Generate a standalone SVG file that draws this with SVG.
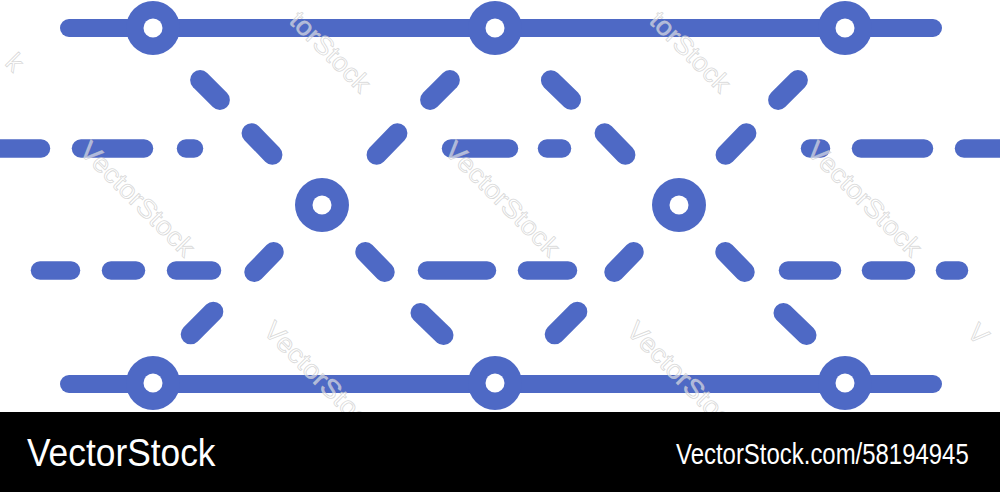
<svg xmlns="http://www.w3.org/2000/svg" width="1000" height="492" viewBox="0 0 1000 492">
  <style>
    .ln { stroke: #4e69c5; stroke-width: 18; stroke-linecap: round; fill: none; }
    .dash { stroke: #4e69c5; stroke-width: 18.5; stroke-linecap: round; fill: none; }
    .dg { stroke: #4e69c5; stroke-width: 20; stroke-linecap: round; fill: none; }
    .outer { fill: #4e69c5; }
    .hole { fill: #ffffff; }
    .wm { font-family: "Liberation Sans", Arial, sans-serif; font-size: 26px; fill: #ffffff; fill-opacity: 0.55; stroke: #c8c8c8; stroke-opacity: 0.7; stroke-width: 0.8; }
    .band { font-family: "Liberation Sans", Arial, sans-serif; fill: #ffffff; }
  </style>
  <rect x="0" y="0" width="1000" height="492" fill="#ffffff"/>

  <g id="connectors">
    <!-- solid rails -->
    <line class="ln" x1="69" y1="28" x2="933" y2="28"/>
    <line class="ln" x1="69" y1="384" x2="933" y2="384"/>
    <!-- upper dashed row -->
    <g>
      <line class="dash" x1="-5" y1="148.5" x2="41" y2="148.5"/>
      <line class="dash" x1="81" y1="148.5" x2="144" y2="148.5"/>
      <line class="dash" x1="186" y1="148.5" x2="194" y2="148.5"/>
      <line class="dash" x1="451" y1="148.5" x2="509" y2="148.5"/>
      <line class="dash" x1="547" y1="148.5" x2="562" y2="148.5"/>
      <line class="dash" x1="810" y1="148.5" x2="821" y2="148.5"/>
      <line class="dash" x1="861" y1="148.5" x2="924" y2="148.5"/>
      <line class="dash" x1="964" y1="148.5" x2="1005" y2="148.5"/>
    </g>
    <!-- lower dashed row -->
    <g>
      <line class="dash" x1="40" y1="270.5" x2="71" y2="270.5"/>
      <line class="dash" x1="111" y1="270.5" x2="136" y2="270.5"/>
      <line class="dash" x1="176" y1="270.5" x2="212" y2="270.5"/>
      <line class="dash" x1="427" y1="270.5" x2="487" y2="270.5"/>
      <line class="dash" x1="527" y1="270.5" x2="568" y2="270.5"/>
      <line class="dash" x1="788" y1="270.5" x2="832" y2="270.5"/>
      <line class="dash" x1="871" y1="270.5" x2="906" y2="270.5"/>
      <line class="dash" x1="945" y1="270.5" x2="959" y2="270.5"/>
    </g>
    <!-- diagonal dashes, upper half -->
    <g>
      <line class="dg" x1="-14" y1="0" x2="14" y2="0" transform="translate(210 90) rotate(45)"/>
      <line class="dg" x1="-15" y1="0" x2="15" y2="0" transform="translate(262 144) rotate(46)"/>
      <line class="dg" x1="-14" y1="0" x2="14" y2="0" transform="translate(440 90) rotate(-45)"/>
      <line class="dg" x1="-15" y1="0" x2="15" y2="0" transform="translate(387 144) rotate(-46)"/>
      <line class="dg" x1="-14" y1="0" x2="14" y2="0" transform="translate(561 90) rotate(44)"/>
      <line class="dg" x1="-15" y1="0" x2="15" y2="0" transform="translate(615 144) rotate(46)"/>
      <line class="dg" x1="-14" y1="0" x2="14" y2="0" transform="translate(788 90) rotate(-45)"/>
      <line class="dg" x1="-15" y1="0" x2="15" y2="0" transform="translate(736 144) rotate(-46)"/>
    </g>
    <!-- diagonal dashes, lower half -->
    <g>
      <line class="dg" x1="-14" y1="0" x2="14" y2="0" transform="translate(264 262) rotate(-46)"/>
      <line class="dg" x1="-16" y1="0" x2="16" y2="0" transform="translate(202 323) rotate(-45)"/>
      <line class="dg" x1="-14" y1="0" x2="14" y2="0" transform="translate(375 262) rotate(46)"/>
      <line class="dg" x1="-16" y1="0" x2="16" y2="0" transform="translate(432 324) rotate(44)"/>
      <line class="dg" x1="-14" y1="0" x2="14" y2="0" transform="translate(624 262) rotate(-46)"/>
      <line class="dg" x1="-16" y1="0" x2="16" y2="0" transform="translate(566 323) rotate(-45)"/>
      <line class="dg" x1="-14" y1="0" x2="14" y2="0" transform="translate(735 262) rotate(46)"/>
      <line class="dg" x1="-16" y1="0" x2="16" y2="0" transform="translate(795 324) rotate(44)"/>
    </g>
  </g>

  <g id="node-top-left"><circle class="outer" cx="153" cy="28" r="27"/><circle class="hole" cx="153" cy="28" r="9.5"/></g>
  <g id="node-top-mid"><circle class="outer" cx="495" cy="28" r="27"/><circle class="hole" cx="495" cy="28" r="9.5"/></g>
  <g id="node-top-right"><circle class="outer" cx="845" cy="28" r="27"/><circle class="hole" cx="845" cy="28" r="9.5"/></g>
  <g id="node-mid-left"><circle class="outer" cx="322" cy="205" r="27"/><circle class="hole" cx="322" cy="205" r="9.5"/></g>
  <g id="node-mid-right"><circle class="outer" cx="679" cy="205" r="27"/><circle class="hole" cx="679" cy="205" r="9.5"/></g>
  <g id="node-bottom-left"><circle class="outer" cx="153" cy="383" r="27"/><circle class="hole" cx="153" cy="383" r="9.5"/></g>
  <g id="node-bottom-mid"><circle class="outer" cx="495" cy="383" r="27"/><circle class="hole" cx="495" cy="383" r="9.5"/></g>
  <g id="node-bottom-right"><circle class="outer" cx="845" cy="383" r="27"/><circle class="hole" cx="845" cy="383" r="9.5"/></g>

  <g id="watermarks">
    <text class="wm" transform="translate(4 64) rotate(45)">k</text>
    <text class="wm" transform="translate(288 22) rotate(45)" textLength="102" lengthAdjust="spacingAndGlyphs">torStock</text>
    <text class="wm" transform="translate(648 22) rotate(45)" textLength="102" lengthAdjust="spacingAndGlyphs">torStock</text>
    <text class="wm" transform="translate(78 152) rotate(45)" textLength="150" lengthAdjust="spacingAndGlyphs">VectorStock</text>
    <text class="wm" transform="translate(443 152) rotate(45)" textLength="150" lengthAdjust="spacingAndGlyphs">VectorStock</text>
    <text class="wm" transform="translate(805 152) rotate(45)" textLength="150" lengthAdjust="spacingAndGlyphs">VectorStock</text>
    <text class="wm" transform="translate(262 332) rotate(45)" textLength="150" lengthAdjust="spacingAndGlyphs">VectorStock</text>
    <text class="wm" transform="translate(625 332) rotate(45)" textLength="150" lengthAdjust="spacingAndGlyphs">VectorStock</text>
    <text class="wm" transform="translate(966 334) rotate(45)">V</text>
  </g>

  <g id="footer">
    <rect x="0" y="412" width="1000" height="80" fill="#000000"/>
    <text class="band" x="0" y="0" font-size="38" transform="translate(27 466) scale(0.93 1)">VectorStock</text>
    <text class="band" x="0" y="0" font-size="29" transform="translate(676 464) scale(0.826 1)">VectorStock.com/58194945</text>
  </g>
</svg>
